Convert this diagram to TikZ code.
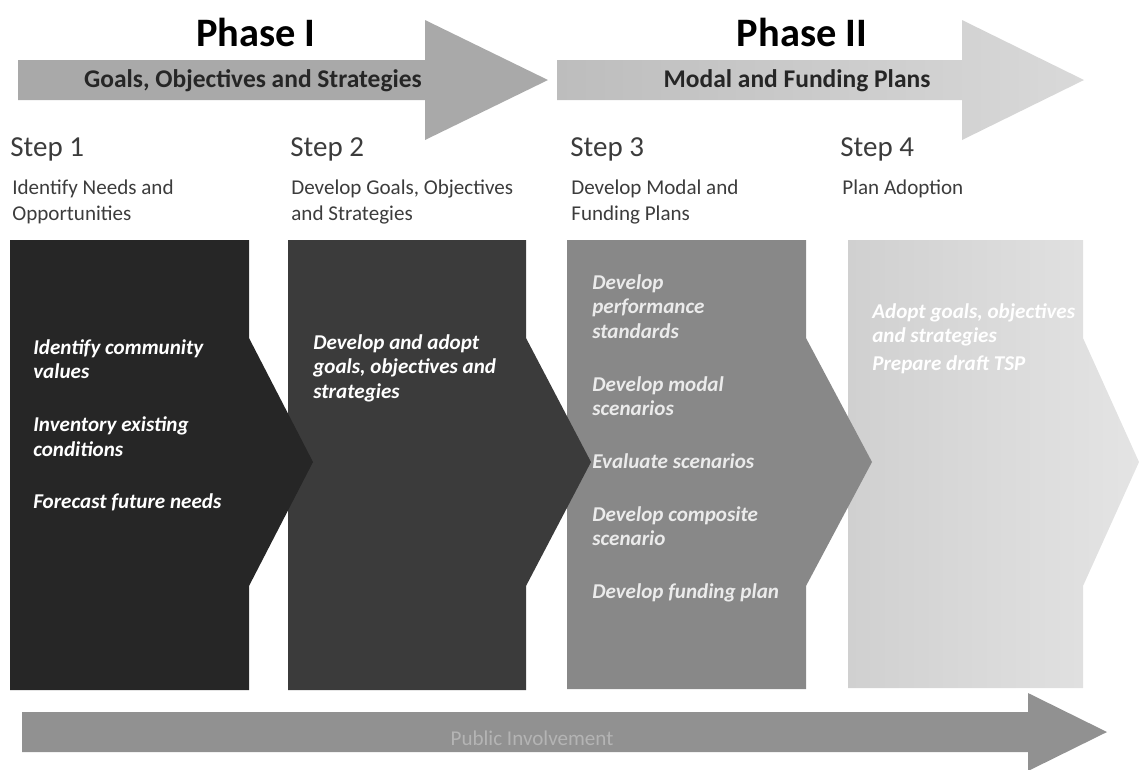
\documentclass[tikz,border=0pt]{standalone}
\usepackage{fontspec}
\setmainfont{Carlito}
\usetikzlibrary{positioning}

\definecolor{barone}{HTML}{A9A9A9}
\definecolor{bartwo}{HTML}{BDBDBD}
\definecolor{bartwoend}{HTML}{D9D9D9}
\definecolor{boxone}{HTML}{262626}
\definecolor{boxtwo}{HTML}{3B3B3B}
\definecolor{boxthree}{HTML}{888888}
\definecolor{boxfour}{HTML}{D0D0D0}
\definecolor{boxfourend}{HTML}{E4E4E4}
\definecolor{involve}{HTML}{919191}
\definecolor{involvetext}{HTML}{B4B4B4}
\definecolor{steptext}{HTML}{3C3C3C}

\begin{document}
\begin{tikzpicture}[x=0.02cm,y=-0.02cm,
    phasetitle/.style={font=\fontsize{23}{27}\selectfont\bfseries, text=black, inner sep=0pt},
    phasebar/.style={font=\fontsize{14.5}{17}\selectfont\bfseries, text=black!85, inner sep=0pt},
    steptitle/.style={font=\fontsize{16.5}{19}\selectfont, text=steptext, anchor=west, inner sep=0pt},
    stepsub/.style={font=\fontsize{12}{15.3}\selectfont, text=steptext, anchor=north west, align=left, inner sep=0pt},
    boxtext/.style={font=\fontsize{12}{14}\selectfont\bfseries\itshape, text=white, anchor=north west, align=left, inner sep=0pt}]

    % --- Frame ---
    \useasboundingbox (0,0) rectangle (1140,769);
    \clip (0,0) rectangle (1140,769);

    % --- Phase arrows ---
    \fill[barone] (18,60) -- (425,60) -- (425,20) -- (548,80) -- (425,140) -- (425,100) -- (18,100) -- cycle;
    \shade[left color=bartwo, right color=bartwoend] (557,60) -- (962,60) -- (962,20) -- (1084,80) -- (962,140) -- (962,100) -- (557,100) -- cycle;

    \node[phasetitle] (phaseone) at (256,32) {Phase I};
    \node[phasetitle] (phasetwo) at (802,32) {Phase II};
    \node[phasebar] (goalsbar) at (253,81) {Goals, Objectives and Strategies};
    \node[phasebar] (modalbar) at (797,81) {Modal and Funding Plans};

    % --- Step headings ---
    \node[steptitle] (stepone) at (10,149) {Step 1};
    \node[steptitle] (steptwo) at (290,149) {Step 2};
    \node[steptitle] (stepthree) at (570,149) {Step 3};
    \node[steptitle] (stepfour) at (840,149) {Step 4};

    \node[stepsub] (subone) at (12,179) {Identify Needs and\\Opportunities};
    \node[stepsub] (subtwo) at (291,179) {Develop Goals, Objectives\\and Strategies};
    \node[stepsub] (subthree) at (571,179) {Develop Modal and\\Funding Plans};
    \node[stepsub] (subfour) at (842,179) {Plan Adoption};

    % --- Chevron boxes (drawn back to front) ---
    \shade[left color=boxfour, right color=boxfourend] (848,240) -- (1083,240) -- (1083,338) -- (1139,462) -- (1083,586) -- (1083,688) -- (848,688) -- cycle;
    \fill[boxthree] (567,240) -- (806,240) -- (806,338) -- (872,462) -- (806,586) -- (806,689) -- (567,689) -- cycle;
    \fill[boxtwo] (288,240) -- (526,240) -- (526,338) -- (591,462) -- (526,586) -- (526,690) -- (288,690) -- cycle;
    \fill[boxone] (10,240) -- (249,240) -- (249,338) -- (313,462) -- (249,586) -- (249,690) -- (10,690) -- cycle;

    % --- Box texts ---
    \node[boxtext] (tasksone) at (33,339) {Identify community\\values\\[16pt]Inventory existing\\conditions\\[16pt]Forecast future needs};
    \node[boxtext] (taskstwo) at (313,334) {Develop and adopt\\goals, objectives and\\strategies};
    \node[boxtext, text=white!92!black] (tasksthree) at (592,274) {Develop\\performance\\standards\\[16pt]Develop modal\\scenarios\\[16pt]Evaluate scenarios\\[16pt]Develop composite\\scenario\\[16pt]Develop funding plan};
    \node[boxtext] (tasksfour) at (872,303) {Adopt goals, objectives\\and strategies\\[2pt]Prepare draft TSP};

    % --- Public involvement arrow ---
    \fill[involve] (22,712) -- (1028,712) -- (1028,693) -- (1107,732) -- (1028,771) -- (1028,752) -- (22,752) -- cycle;
    \node[font=\fontsize{12}{14}\selectfont, text=involvetext, inner sep=0pt] (public) at (532,738) {Public Involvement};

\end{tikzpicture}
\end{document}
